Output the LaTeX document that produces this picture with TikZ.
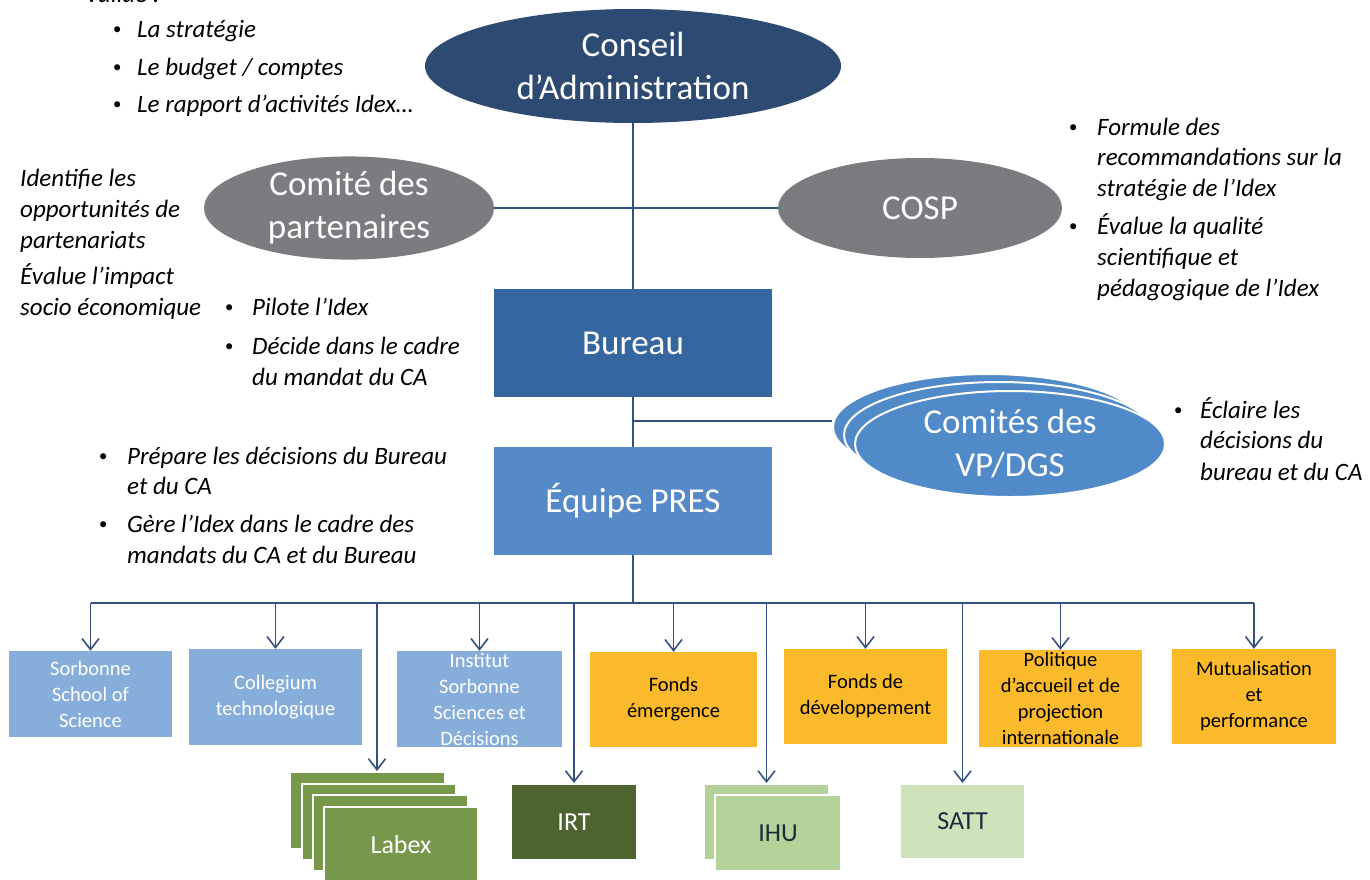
\documentclass[tikz,border=0pt]{standalone}
\usepackage{fontspec}
\setmainfont{Carlito}
\usetikzlibrary{arrows.meta,shapes.geometric}
\definecolor{cablue}{HTML}{2C4A72}
\definecolor{grayell}{HTML}{7B7C80}
\definecolor{bureaublue}{HTML}{3566A0}
\definecolor{equipeblue}{HTML}{5689C8}
\definecolor{vpblue}{HTML}{508AC8}
\definecolor{lightblue}{HTML}{87AEDA}
\definecolor{orangebox}{HTML}{FBBA2B}
\definecolor{labexgreen}{HTML}{77984A}
\definecolor{irtgreen}{HTML}{4D6431}
\definecolor{ihugreen}{HTML}{B3D39B}
\definecolor{sattgreen}{HTML}{CEE3BC}
\definecolor{lineblue}{HTML}{34507F}
\definecolor{darktext}{HTML}{1F2A3A}
\newcommand\fBig{\fontsize{35}{43}\selectfont}
\newcommand\fNote{\fontsize{25}{31}\selectfont\itshape}
\newcommand\fBox{\fontsize{20.5}{26}\selectfont}
\newcommand\fGreen{\fontsize{26}{30}\selectfont}
\newcommand\nl[4]{\node[note] (#1) at (#2,#3) {#4};}
\newcommand\bl[3]{\node[bul] (#1) at (#2,#3) {\raisebox{2.8pt}{\fontsize{17}{17}\selectfont\textbullet}};}
\begin{document}
\begin{tikzpicture}[x=1pt,y=-1pt,
  conn/.style={draw=lineblue, line width=1.6pt},
  arr/.style={conn, -{Straight Barb[length=11pt,width=17pt,line width=1.6pt]}},
  ell/.style={ellipse, inner sep=0, text=white, align=center, font=\fBig},
  box/.style={rectangle, inner sep=0, align=center},
  bigbox/.style={box, text=white, font=\fBig, minimum width=278, minimum height=108},
  smallbox/.style={box, font=\fBox},
  greenbox/.style={box, font=\fGreen, draw=white, line width=2pt},
  note/.style={anchor=base west, inner sep=0, font=\fNote},
  bul/.style={anchor=base, inner sep=0, font=\fNote}]
\useasboundingbox (0,0) rectangle (1370,879);
\clip (0,0) rectangle (1370,879);

% main nodes
\node[ell, fill=cablue, minimum width=416, minimum height=114] (ca) at (633,66) {Conseil\\d’Administration};
\node[ell, fill=grayell, minimum width=290, minimum height=100] (part) at (349,208) {Comité des\\partenaires};
\node[ell, fill=grayell, minimum width=284, minimum height=100] (cosp) at (920,208) {COSP};
\node[bigbox, fill=bureaublue] (bureau) at (633,343) {Bureau};
\node[bigbox, fill=equipeblue] (equipe) at (633,501) {Équipe PRES};

% VP/DGS stack
\node[ell, fill=vpblue, draw=white, line width=2pt, minimum width=310, minimum height=106] (vp2) at (988,427) {};
\node[ell, fill=vpblue, draw=white, line width=2pt, minimum width=310, minimum height=106] (vp1) at (999,435) {};
\node[ell, fill=vpblue, draw=white, line width=2pt, minimum width=310, minimum height=106] (vp) at (1010,444) {Comités des\\VP/DGS};

% second-level boxes
\node[smallbox, fill=lightblue, text=white, minimum width=163, minimum height=86] (sss) at (90.5,694) {Sorbonne\\School of\\Science};
\node[smallbox, fill=lightblue, text=white, minimum width=173, minimum height=96] (col) at (275.5,697) {Collegium\\technologique};
\node[smallbox, fill=lightblue, text=white, minimum width=165, minimum height=96] (iss) at (479.5,699) {Institut\\Sorbonne\\Sciences et\\Décisions};
\node[smallbox, fill=orangebox, text=black, minimum width=167, minimum height=95] (fem) at (673.5,699.5) {Fonds\\émergence};
\node[smallbox, fill=orangebox, text=black, minimum width=163, minimum height=95] (fdev) at (865.5,696.5) {Fonds de\\développement};
\node[smallbox, fill=orangebox, text=black, minimum width=163, minimum height=97] (pol) at (1060.5,698.5) {Politique\\d’accueil et de\\projection\\internationale};
\node[smallbox, fill=orangebox, text=black, minimum width=164, minimum height=95] (mut) at (1254,696.5) {Mutualisation\\et\\performance};

% green boxes
\node[greenbox, fill=labexgreen, minimum width=155, minimum height=77] (labexA) at (367.5,810.5) {};
\node[greenbox, fill=labexgreen, minimum width=154, minimum height=76] (labexB) at (379,822) {};
\node[greenbox, fill=labexgreen, minimum width=155, minimum height=76] (labexC) at (390.5,833) {};
\node[greenbox, fill=labexgreen, text=white, minimum width=154, minimum height=76] (labex) at (401,845) {Labex};
\node[greenbox, fill=irtgreen, text=white, minimum width=126, minimum height=76] (irt) at (574,822) {IRT};
\node[greenbox, fill=ihugreen, minimum width=125, minimum height=76] (ihuB) at (766.5,822) {};
\node[greenbox, fill=ihugreen, text=darktext, minimum width=126, minimum height=76] (ihu) at (778,833) {IHU};
\node[greenbox, fill=sattgreen, text=darktext, minimum width=125, minimum height=75] (satt) at (962.5,821.5) {SATT};

% connectors
\draw[conn] (ca) -- (bureau);
\draw[conn] (part.east) -- (cosp.west);
\draw[conn] (bureau) -- (equipe);
\coordinate (j1) at (633,421);
\draw[conn] (j1) -- (j1 -| vp2.west);
\coordinate (bus) at (633,603);
\draw[conn] (equipe.south) -- (bus);
\draw[conn] (bus -| sss.north) -- (bus -| mut.north);
\foreach \n in {sss,col,iss,fem,fdev,pol,mut}
  \draw[arr] (bus -| \n.north) -- (\n.north);
\coordinate (labexin) at ([xshift=9.5pt]labexA.north);
\draw[arr] (bus -| labexin) -- (labexin);
\draw[arr] (bus -| irt.north) -- (irt.north);
\draw[arr] (bus -| ihuB.north) -- (ihuB.north);
\draw[arr] (bus -| satt.north) -- (satt.north);

% annotations
\nl{valide}{85}{2}{Valide :}
\bl{b1}{117}{37}\nl{t1}{137}{37}{La stratégie}
\bl{b2}{117}{75}\nl{t2}{137}{75}{Le budget / comptes}
\bl{b3}{117}{112}\nl{t3}{137}{112}{Le rapport d’activités Idex…}

\nl{p1}{20}{186}{Identifie les}
\nl{p2}{20}{217}{opportunités de}
\nl{p3}{20}{248}{partenariats}
\nl{p4}{20}{284}{Évalue l’impact}
\nl{p5}{20}{315}{socio économique}

\bl{b4}{229}{315}\nl{q1}{252}{315}{Pilote l’Idex}
\bl{b5}{229}{354}\nl{q2}{252}{354}{Décide dans le cadre}
\nl{q3}{252}{385}{du mandat du CA}

\bl{b6}{103}{464}\nl{r1}{127}{464}{Prépare les décisions du Bureau}
\nl{r2}{127}{494}{et du CA}
\bl{b7}{103}{532}\nl{r3}{127}{532}{Gère l’Idex dans le cadre des}
\nl{r4}{127}{563}{mandats du CA et du Bureau}

\bl{b8}{1073}{135}\nl{s1}{1097}{135}{Formule des}
\nl{s2}{1097}{165}{recommandations sur la}
\nl{s3}{1097}{196}{stratégie de l’Idex}
\bl{b9}{1073}{234}\nl{s4}{1097}{234}{Évalue la qualité}
\nl{s5}{1097}{265}{scientifique et}
\nl{s6}{1097}{296}{pédagogique de l’Idex}

\bl{b10}{1178}{418}\nl{v1}{1200}{418}{Éclaire les}
\nl{v2}{1200}{448}{décisions du}
\nl{v3}{1200}{480}{bureau et du CA}
\end{tikzpicture}
\end{document}
